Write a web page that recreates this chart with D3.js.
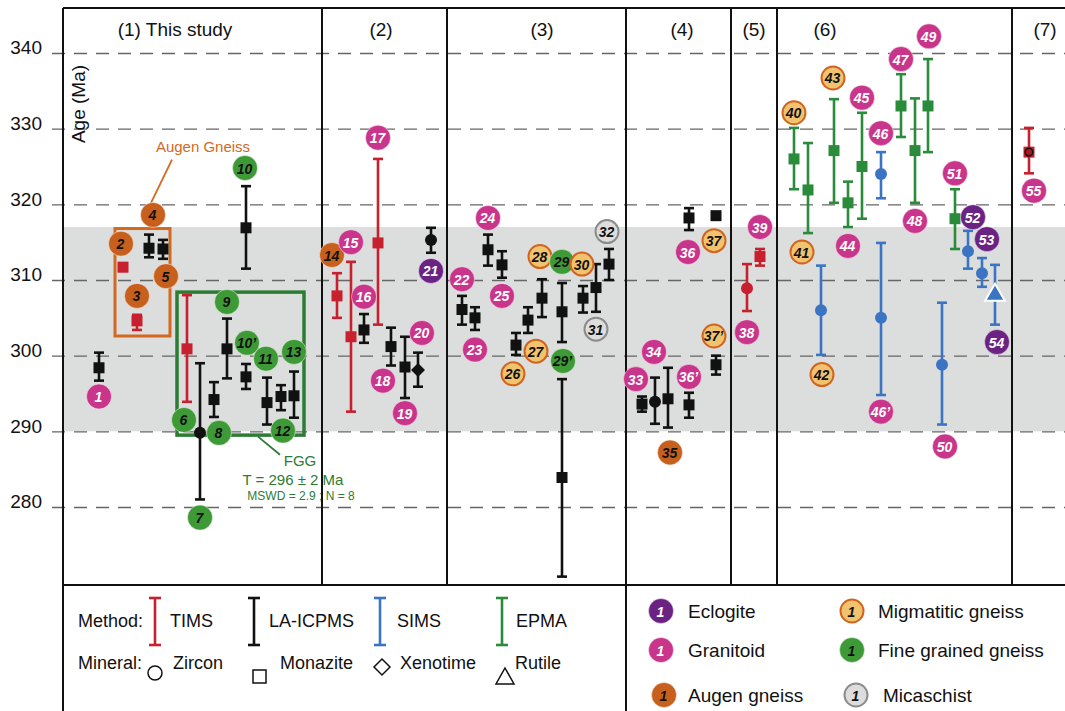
<!DOCTYPE html>
<html>
<head>
<meta charset="utf-8">
<script src="https://cdn.jsdelivr.net/npm/d3@7"></script>
<style>
  body { margin: 0; background: #fff; }
  svg { display: block; font-family: "Liberation Sans", Arial, sans-serif; }
</style>
</head>
<body>
<svg id="chart" width="1065" height="711"></svg>
<script>
// ---- data ----
const ageTicks = [280, 290, 300, 310, 320, 330, 340];
const bandAges = [290, 317];
const panelTitles = ["(1) This study", "(2)", "(3)", "(4)", "(5)", "(6)", "(7)"];
const panelTitleSlots = [11.2, 31.8, 47.9, 61.9, 69.1, 76.2, 98.2];
const panelBounds = [25.9, 38.4, 56.3, 66.8, 71.4, 94.9];

const ids = ["1","2","3","4","5","6","7","8","9","10","10’","11","12","13",
  "14","15","16","17","18","19","20","21",
  "22","23","24","25","26","27","28","29","29’","30","31","32",
  "33","34","35","36","36’","37","37’",
  "38","39",
  "40","41","42","43","44","45","46","46’","47","48","49","50","51","52","53","54",
  "55"];
const slots = [3.6, 6.0, 7.4, 8.6, 10.0, 12.4, 13.7, 15.1, 16.4, 18.3, 18.3, 20.4, 21.8, 23.1,
  27.4, 28.8, 30.1, 31.5, 32.8, 34.2, 35.5, 36.8,
  39.9, 41.2, 42.5, 43.9, 45.3, 46.5, 47.9, 49.9, 49.9, 52.0, 53.3, 54.6,
  57.9, 59.2, 60.5, 62.6, 62.6, 65.3, 65.3,
  68.4, 69.7,
  73.1, 74.5, 75.8, 77.1, 78.5, 79.9, 81.8, 81.8, 83.8, 85.2, 86.5, 87.9, 89.2, 90.5, 91.9, 93.2,
  96.6];
const ages = [298.4, 311.7, 304.6, 314.2, 314.1, 300.9, 289.8, 294.2, 300.9, 316.9, 297.2, 293.8, 294.6, 294.7,
  307.9, 302.5, 303.4, 314.9, 301.2, 298.5, 298.1, 315.3,
  306.1, 305.0, 314.0, 312.0, 301.4, 304.7, 307.6, 305.8, 283.9, 307.6, 309.0, 312.1,
  293.6, 293.9, 294.3, 318.2, 293.5, 318.5, 298.8,
  308.9, 313.1,
  326.0, 321.9, 306.0, 327.1, 320.2, 325.0, 324.0, 305.0, 333.0, 327.1, 333.0, 298.8, 318.1, 313.8, 310.9, 308.0,
  326.9];
const ageLows = [296.7, 311.2, 303.4, 313.0, 312.8, 293.9, 281.0, 291.9, 297.0, 311.5, 295.6, 290.9, 292.8, 291.8,
  305.0, 292.6, 301.7, 304.1, 298.7, 294.4, 295.9, 313.6,
  304.1, 303.4, 311.9, 310.3, 300.1, 303.0, 305.1, 301.8, 270.8, 305.7, 305.8, 310.0,
  292.6, 291.0, 290.5, 316.6, 291.8, 318.5, 297.5,
  305.9, 311.9,
  322.0, 316.2, 300.1, 320.2, 317.0, 318.1, 320.8, 294.8, 328.9, 320.2, 326.9, 290.9, 314.1, 311.5, 309.1, 304.1,
  324.1];
const ageHighs = [300.4, 312.2, 305.4, 316.0, 315.3, 308.0, 299.0, 296.5, 304.9, 322.4, 298.9, 297.1, 296.1, 297.9,
  310.9, 312.4, 305.5, 326.0, 303.7, 302.5, 300.4, 316.9,
  307.9, 306.4, 316.0, 313.8, 303.0, 306.4, 310.1, 309.6, 296.9, 309.2, 312.1, 314.1,
  294.6, 297.1, 298.4, 319.5, 295.1, 318.5, 300.0,
  312.1, 314.1,
  330.1, 328.1, 311.9, 333.9, 323.0, 332.1, 326.9, 314.9, 337.2, 334.0, 339.2, 307.0, 322.0, 316.5, 312.9, 312.0,
  330.1];
const methods = ["L","T","T","L","L","T","L","L","L","L","L","L","L","L",
  "T","T","L","T","L","L","L","L",
  "L","L","L","L","L","L","L","L","L","L","L","L",
  "L","L","L","L","L","L","L",
  "T","T",
  "E","E","S","E","E","E","S","S","E","E","E","S","E","S","S","S",
  "T"];
const minerals = ["M","M","M","M","M","M","Z","M","M","M","M","M","M","M",
  "M","M","M","M","M","M","X","Z",
  "M","M","M","M","M","M","M","M","M","M","M","M",
  "M","Z","M","M","M","M","M",
  "Z","M",
  "M","M","Z","M","M","M","Z","Z","M","M","M","Z","M","Z","Z","R",
  "ZM"];
const rocks = ["gran","aug","aug","aug","aug","fgg","fgg","fgg","fgg","fgg","fgg","fgg","fgg","fgg",
  "aug","gran","gran","gran","gran","gran","gran","ecl",
  "gran","gran","gran","gran","mig","mig","mig","fgg","fgg","mig","mica","mica",
  "gran","gran","aug","gran","gran","mig","mig",
  "gran","gran",
  "mig","mig","mig","mig","gran","gran","gran","gran","gran","gran","gran","gran","gran","ecl","ecl","ecl",
  "gran"];
const labelSlots = [3.6, 5.8, 7.4, 9.0, 10.3, 12.1, 13.7, 15.6, 16.4, 18.2, 18.4, 20.3, 22.0, 23.1,
  26.9, 28.8, 30.1, 31.5, 32.0, 34.2, 35.9, 36.8,
  39.9, 41.2, 42.5, 43.9, 45.0, 47.3, 47.7, 49.9, 50.0, 51.9, 53.3, 54.4,
  57.3, 59.1, 60.7, 62.5, 62.6, 65.1, 65.1,
  68.4, 69.7,
  73.1, 73.9, 75.9, 77.0, 78.5, 79.9, 81.8, 81.8, 83.8, 85.2, 86.6, 88.2, 89.2, 91.0, 92.4, 93.4,
  97.1];
const labelAges = [294.6, 314.8, 307.9, 318.6, 310.5, 291.5, 278.6, 289.8, 307.1, 324.8, 301.7, 299.6, 290.1, 300.5,
  313.3, 315.0, 307.8, 328.8, 296.7, 292.4, 303.0, 311.2,
  310.1, 300.8, 318.2, 307.9, 297.6, 300.6, 313.1, 312.4, 299.3, 312.1, 303.5, 316.4,
  296.9, 300.5, 287.2, 313.7, 297.2, 315.2, 302.6,
  303.1, 317.0,
  332.1, 313.7, 297.5, 336.7, 314.5, 334.1, 329.4, 292.6, 339.2, 317.8, 342.2, 288.0, 324.1, 318.3, 315.4, 301.8,
  321.8];

// annotation boxes (slot range, age range)
const augenBoxSlots = [5.2, 10.7], augenBoxAges = [302.6, 316.8];
const fggBoxSlots = [11.4, 24.1], fggBoxAges = [289.5, 308.4];

const methodNames = ["TIMS", "LA-ICPMS", "SIMS", "EPMA"];
const mineralNames = ["Zircon", "Monazite", "Xenotime", "Rutile"];
const rockNames = ["Eclogite", "Granitoid", "Augen gneiss", "Migmatitic gneiss", "Fine grained gneiss", "Micaschist"];

// ---- styles ----
const methodColor = { T: "#c8202e", L: "#111111", S: "#3b74c2", E: "#2a8b3a" };
const rockFill = { ecl: "#6a2383", gran: "#c9358a", aug: "#c8601d", mig: "#f1c36f", fgg: "#3e9a36", mica: "#dddddd" };
const rockStroke = { mig: "#d0651f", mica: "#8c8c8c" };
const rockText = { ecl: "#fff", gran: "#fff", aug: "#111", mig: "#111", fgg: "#111", mica: "#111" };

const left = 63, right = 1065, plotTop = 8, plotBottom = 585;
const x = d3.scaleLinear().domain([0, 100.2]).range([left, right]);
const y = d3.scaleLinear().domain([280, 340]).range([507, 53]);

const svg = d3.select("#chart");

// grey band
svg.append("rect")
  .attr("x", left).attr("width", right - left)
  .attr("y", y(bandAges[1])).attr("height", y(bandAges[0]) - y(bandAges[1]))
  .attr("fill", "#dcdddd");

// y axis + dashed grid
const gAxis = svg.append("g")
  .attr("transform", "translate(52,0)")
  .call(d3.axisLeft(y).tickValues(ageTicks).tickSizeInner(-(right - 52)).tickSizeOuter(0).tickPadding(10));
gAxis.select(".domain").remove();
gAxis.attr("font-size", 19).attr("font-family", "Liberation Sans, Arial, sans-serif");
gAxis.selectAll("line").attr("stroke", "#666").attr("stroke-width", 1.3).attr("stroke-dasharray", "13,9");
gAxis.selectAll("text").attr("fill", "#111").attr("dy", "0.05em");

svg.append("text")
  .attr("transform", "translate(78,104) rotate(-90)")
  .attr("text-anchor", "middle").attr("dominant-baseline", "central")
  .attr("font-size", 19).attr("fill", "#111")
  .text("Age (Ma)");

// annotation boxes
svg.append("rect")
  .attr("x", x(augenBoxSlots[0])).attr("width", x(augenBoxSlots[1]) - x(augenBoxSlots[0]))
  .attr("y", y(augenBoxAges[1])).attr("height", y(augenBoxAges[0]) - y(augenBoxAges[1]))
  .attr("fill", "none").attr("stroke", "#d2691e").attr("stroke-width", 3);
svg.append("rect")
  .attr("x", x(fggBoxSlots[0])).attr("width", x(fggBoxSlots[1]) - x(fggBoxSlots[0]))
  .attr("y", y(fggBoxAges[1])).attr("height", y(fggBoxAges[0]) - y(fggBoxAges[1]))
  .attr("fill", "none").attr("stroke", "#2c7c34").attr("stroke-width", 3.5);

// annotation texts + leaders
svg.append("line")
  .attr("x1", x(10.9)).attr("y1", y(325.9)).attr("x2", x(8.8)).attr("y2", y(320.2))
  .attr("stroke", "#d2691e").attr("stroke-width", 1.8);
svg.append("text")
  .attr("x", x(14.0)).attr("y", y(327.7)).attr("text-anchor", "middle").attr("dominant-baseline", "central")
  .attr("font-size", 15).attr("fill", "#d2691e").text("Augen Gneiss");
svg.append("line")
  .attr("x1", x(19.5)).attr("y1", y(289.3)).attr("x2", x(21.7)).attr("y2", y(286.9))
  .attr("stroke", "#2c7c34").attr("stroke-width", 1.8);
const fggText = [["FGG", 23.7, 286.1, 15], ["T = 296 ± 2 Ma", 23.0, 283.7, 15], ["MSWD = 2.9 ; N = 8", 23.8, 281.5, 12]];
fggText.forEach(([t, s, a, f]) => {
  svg.append("text").attr("x", x(s)).attr("y", y(a)).attr("text-anchor", "middle")
    .attr("dominant-baseline", "central").attr("font-size", f).attr("fill", "#2c7c34").text(t);
});

// samples table built from the arrays
const samples = ids.map((id, i) => ({
  id, slot: slots[i], age: ages[i], lo: ageLows[i], hi: ageHighs[i],
  method: methods[i], mineral: minerals[i], rock: rocks[i],
  lSlot: labelSlots[i], lAge: labelAges[i]
}));

// error bars
const capW = 5;
const bars = svg.append("g").attr("stroke-width", 2.6).attr("fill", "none");
samples.filter(d => d.hi > d.lo).forEach(d => {
  const cx = x(d.slot), c = methodColor[d.method];
  bars.append("line").attr("x1", cx).attr("x2", cx).attr("y1", y(d.lo)).attr("y2", y(d.hi)).attr("stroke", c);
  [d.lo, d.hi].forEach(v => bars.append("line")
    .attr("x1", cx - capW).attr("x2", cx + capW).attr("y1", y(v)).attr("y2", y(v)).attr("stroke", c));
});

// markers
const marks = svg.append("g");
samples.forEach(d => {
  const cx = x(d.slot), cy = y(d.age), c = methodColor[d.method];
  if (d.mineral === "M" || d.mineral === "ZM") {
    marks.append("rect").attr("x", cx - 5.5).attr("y", cy - 5.5).attr("width", 11).attr("height", 11).attr("fill", c);
    if (d.mineral === "ZM") {
      marks.append("circle").attr("cx", cx).attr("cy", cy).attr("r", 3.8)
        .attr("fill", "#b01822").attr("stroke", "#111").attr("stroke-width", 1.6);
    }
  } else if (d.mineral === "Z") {
    marks.append("circle").attr("cx", cx).attr("cy", cy).attr("r", 6).attr("fill", c);
  } else if (d.mineral === "X") {
    marks.append("path").attr("d", `M${cx},${cy - 7}L${cx + 7},${cy}L${cx},${cy + 7}L${cx - 7},${cy}Z`).attr("fill", c);
  } else if (d.mineral === "R") {
    marks.append("path").attr("transform", `translate(${cx},${cy})`)
      .attr("d", d3.symbol(d3.symbolTriangle, 170)())
      .attr("fill", c).attr("stroke", "#fff").attr("stroke-width", 2);
  }
});

// frame
const frame = svg.append("g").attr("stroke", "#111").attr("stroke-width", 2);
frame.append("line").attr("x1", left).attr("x2", right).attr("y1", plotTop).attr("y2", plotTop);
frame.append("line").attr("x1", left).attr("x2", left).attr("y1", plotTop).attr("y2", 711);
frame.append("line").attr("x1", left).attr("x2", right).attr("y1", plotBottom).attr("y2", plotBottom);
panelBounds.forEach(b => frame.append("line")
  .attr("x1", x(b)).attr("x2", x(b)).attr("y1", plotTop).attr("y2", plotBottom));
frame.append("line").attr("x1", x(panelBounds[2])).attr("x2", x(panelBounds[2])).attr("y1", plotBottom).attr("y2", 711);

// panel titles
panelTitles.forEach((t, i) => svg.append("text")
  .attr("x", x(panelTitleSlots[i])).attr("y", 36).attr("text-anchor", "middle")
  .attr("font-size", 19).attr("fill", "#111").text(t));

// sample label circles
function badge(g, cx, cy, rock, text) {
  const stroked = rockStroke[rock];
  g.append("circle").attr("cx", cx).attr("cy", cy).attr("r", stroked ? 11.5 : 12.5)
    .attr("fill", rockFill[rock])
    .attr("stroke", stroked || "rgba(255,255,255,0.6)").attr("stroke-width", stroked ? 2 : 0.8);
  g.append("text").attr("x", cx - 0.5).attr("y", cy + 0.5)
    .attr("text-anchor", "middle").attr("dominant-baseline", "central")
    .attr("font-size", 14).attr("font-weight", "bold").attr("font-style", "italic")
    .attr("fill", rockText[rock]).text(text);
}
const labels = svg.append("g");
samples.forEach(d => badge(labels, x(d.lSlot), y(d.lAge), d.rock, d.id));

// ---- legend ----
const leg = svg.append("g").attr("font-size", 18).attr("fill", "#111");
leg.append("text").attr("x", 78).attr("y", 627).text("Method:");
const methodKeys = ["T", "L", "S", "E"];
const methodBarX = [155, 254, 380, 502];
const methodTextX = [170, 269, 397, 516];
methodKeys.forEach((k, i) => {
  const bx = methodBarX[i], c = methodColor[k];
  const g = leg.append("g").attr("stroke", c).attr("stroke-width", 2.6);
  g.append("line").attr("x1", bx).attr("x2", bx).attr("y1", 598).attr("y2", 645);
  g.append("line").attr("x1", bx - 6).attr("x2", bx + 6).attr("y1", 598).attr("y2", 598);
  g.append("line").attr("x1", bx - 6).attr("x2", bx + 6).attr("y1", 645).attr("y2", 645);
  leg.append("text").attr("x", methodTextX[i]).attr("y", 627).text(methodNames[i]);
});

leg.append("text").attr("x", 78).attr("y", 669).text("Mineral:");
const mineralTextX = [173, 280, 400, 515];
const sym = leg.append("g").attr("fill", "#fff").attr("stroke", "#111").attr("stroke-width", 1.5);
sym.append("circle").attr("cx", 155).attr("cy", 673).attr("r", 7);
sym.append("rect").attr("x", 253).attr("y", 670).attr("width", 13).attr("height", 13);
sym.append("path").attr("d", "M382,659L390,667L382,675L374,667Z");
sym.append("path").attr("d", "M505,668L514,684L496,684Z");
mineralNames.forEach((m, i) => leg.append("text").attr("x", mineralTextX[i]).attr("y", 669).text(m));

const rockKeys = ["ecl", "gran", "aug", "mig", "fgg", "mica"];
const rockBadgeX = [661, 661, 664, 852, 852, 856];
const rockBadgeY = [611, 650, 695, 611, 650, 695];
const rockTextX = [688, 688, 688, 878, 878, 883];
const legR = svg.append("g");
rockKeys.forEach((k, i) => {
  badge(legR, rockBadgeX[i], rockBadgeY[i], k, "1");
  legR.append("text").attr("x", rockTextX[i]).attr("y", rockBadgeY[i])
    .attr("dominant-baseline", "central").attr("font-size", 19).attr("fill", "#111").text(rockNames[i]);
});
</script>
</body>
</html>
